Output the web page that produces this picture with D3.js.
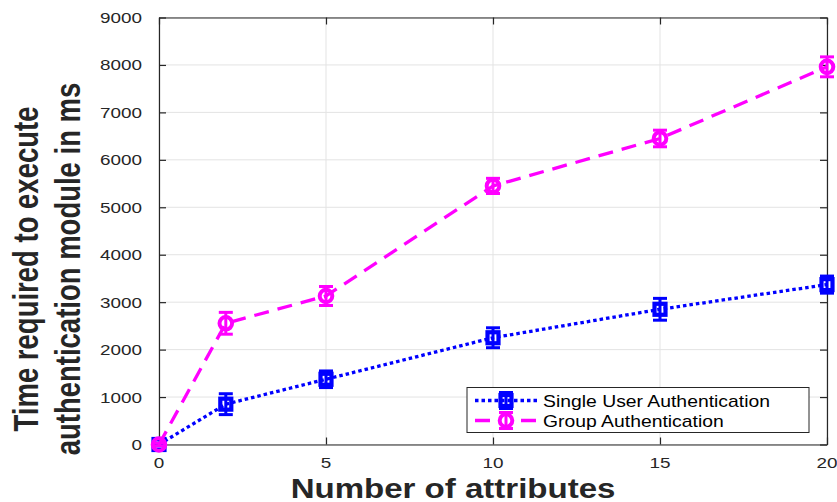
<!DOCTYPE html>
<html>
<head>
<meta charset="utf-8">
<script src="https://cdn.jsdelivr.net/npm/d3@7"></script>
<style>
  body { margin: 0; background: #fff; }
  svg { display: block; font-family: "Liberation Sans", Arial, sans-serif; }
</style>
</head>
<body>
<div id="chart"></div>
<script>
// data
var attrs = [0, 2, 5, 10, 15, 20];
var singleTime = [0, 850, 1375, 2250, 2850, 3370];
var singleErr = [30, 220, 175, 210, 230, 180];
var groupTime = [0, 2555, 3130, 5450, 6450, 7960];
var groupErr = [30, 230, 200, 160, 175, 210];
var xTicks = [0, 5, 10, 15, 20];
var yTicks = [0, 1000, 2000, 3000, 4000, 5000, 6000, 7000, 8000, 9000];
var seriesNames = ["Single User Authentication", "Group Authentication"];

var W = 837, H = 502;
var plotL = 159, plotR = 827, plotT = 17.5, plotB = 444.5;
var axisColor = "#262626", gridColor = "#e3e3e3";
var sx = 1.22; // figure text is stretched horizontally

var svg = d3.select("#chart").append("svg")
    .attr("width", W)
    .attr("height", H);

var x = d3.scaleLinear().domain([0, 20]).range([plotL, plotR]);
var y = d3.scaleLinear().domain([0, 9000]).range([plotB, plotT]);

// grid
svg.append("g").selectAll("line").data(xTicks).enter().append("line")
    .attr("x1", d => x(d)).attr("x2", d => x(d))
    .attr("y1", plotT).attr("y2", plotB)
    .attr("stroke", gridColor).attr("stroke-width", 1);
svg.append("g").selectAll("line").data(yTicks).enter().append("line")
    .attr("x1", plotL).attr("x2", plotR)
    .attr("y1", d => y(d)).attr("y2", d => y(d))
    .attr("stroke", gridColor).attr("stroke-width", 1);

// axes with inward ticks (all four sides)
function styleAxis(g) {
    g.select(".domain").attr("stroke", axisColor).attr("stroke-width", 1.2);
    g.selectAll(".tick line").attr("stroke", axisColor).attr("stroke-width", 1.2);
    g.selectAll(".tick text").remove();
}
svg.append("g").attr("transform", "translate(0," + plotB + ")")
    .call(d3.axisBottom(x).tickValues(xTicks).tickSizeInner(-7).tickSizeOuter(0)).call(styleAxis);
svg.append("g").attr("transform", "translate(0," + plotT + ")")
    .call(d3.axisTop(x).tickValues(xTicks).tickSizeInner(-7).tickSizeOuter(0)).call(styleAxis);
svg.append("g").attr("transform", "translate(" + plotL + ",0)")
    .call(d3.axisLeft(y).tickValues(yTicks).tickSizeInner(-7).tickSizeOuter(0)).call(styleAxis);
svg.append("g").attr("transform", "translate(" + plotR + ",0)")
    .call(d3.axisRight(y).tickValues(yTicks).tickSizeInner(-7).tickSizeOuter(0)).call(styleAxis);

// tick labels
svg.append("g").selectAll("text").data(xTicks).enter().append("text")
    .attr("transform", d => "translate(" + x(d) + ",468) scale(" + sx + ",1)")
    .attr("text-anchor", "middle")
    .attr("font-size", 15.5)
    .attr("fill", axisColor)
    .text(d => d);
svg.append("g").selectAll("text").data(yTicks).enter().append("text")
    .attr("transform", d => "translate(142," + (y(d) + 5.5) + ") scale(" + sx + ",1)")
    .attr("text-anchor", "end")
    .attr("font-size", 15.5)
    .attr("fill", axisColor)
    .text(d => d);

// axis titles
svg.append("text")
    .attr("transform", "translate(453,498) scale(1.18,1)")
    .attr("text-anchor", "middle")
    .attr("font-size", 28)
    .attr("font-weight", "bold")
    .attr("fill", axisColor)
    .text("Number of attributes");
svg.append("text")
    .attr("transform", "translate(38,269) scale(1.27,1) rotate(-90)")
    .attr("text-anchor", "middle")
    .attr("font-size", 27.5)
    .attr("font-weight", "bold")
    .attr("fill", axisColor)
    .text("Time required to execute");
svg.append("text")
    .attr("transform", "translate(80,269) scale(1.27,1) rotate(-90)")
    .attr("text-anchor", "middle")
    .attr("font-size", 27.5)
    .attr("font-weight", "bold")
    .attr("fill", axisColor)
    .text("authentication module in ms");

// markers
function drawMarker(g, shape, cx, cy, color) {
    if (shape === "square") {
        g.append("rect")
            .attr("x", cx - 5.5).attr("y", cy - 5.5)
            .attr("width", 11).attr("height", 11)
            .attr("fill", "none").attr("stroke", color).attr("stroke-width", 4.2);
    } else {
        g.append("circle")
            .attr("cx", cx).attr("cy", cy).attr("r", 6.3)
            .attr("fill", "none").attr("stroke", color).attr("stroke-width", 4);
    }
}
function drawErr(g, cx, y1, y2, color) {
    g.append("line").attr("x1", cx).attr("x2", cx).attr("y1", y1).attr("y2", y2)
        .attr("stroke", color).attr("stroke-width", 3);
    [y1, y2].forEach(v => {
        g.append("line").attr("x1", cx - 7).attr("x2", cx + 7).attr("y1", v).attr("y2", v)
            .attr("stroke", color).attr("stroke-width", 3);
    });
}

var series = [
    { name: seriesNames[0], vals: singleTime, errs: singleErr, color: "#0000ff", dash: "3.5,3", shape: "square" },
    { name: seriesNames[1], vals: groupTime, errs: groupErr, color: "#ff00ff", dash: "15,9", shape: "circle" }
];

var line = d3.line().x(d => x(d[0])).y(d => y(d[1]));

series.forEach(s => {
    var g = svg.append("g");
    var pts = attrs.map((a, i) => [a, s.vals[i]]);
    g.append("path")
        .attr("d", line(pts))
        .attr("fill", "none")
        .attr("stroke", s.color)
        .attr("stroke-width", 3.3)
        .attr("stroke-dasharray", s.dash);
    attrs.forEach((a, i) => {
        drawErr(g, x(a), y(s.vals[i] + s.errs[i]), y(s.vals[i] - s.errs[i]), s.color);
        drawMarker(g, s.shape, x(a), y(s.vals[i]), s.color);
    });
});

// legend
var lg = svg.append("g");
lg.append("rect")
    .attr("x", 467).attr("y", 387.5)
    .attr("width", 342).attr("height", 45)
    .attr("fill", "#fff").attr("stroke", axisColor).attr("stroke-width", 1);
series.forEach((s, i) => {
    var cy = 400.5 + i * 20;
    lg.append("line")
        .attr("x1", 475).attr("x2", 537).attr("y1", cy).attr("y2", cy)
        .attr("stroke", s.color).attr("stroke-width", 3.3)
        .attr("stroke-dasharray", s.shape === "square" ? "3.5,3" : "15,31");
    drawErr(lg, 506, cy - 8, cy + 8, s.color);
    drawMarker(lg, s.shape, 506, cy, s.color);
    lg.append("text")
        .attr("transform", "translate(543," + (cy + 6) + ") scale(1.21,1)")
        .attr("font-size", 16)
        .attr("fill", "#000")
        .text(s.name);
});
</script>
</body>
</html>
